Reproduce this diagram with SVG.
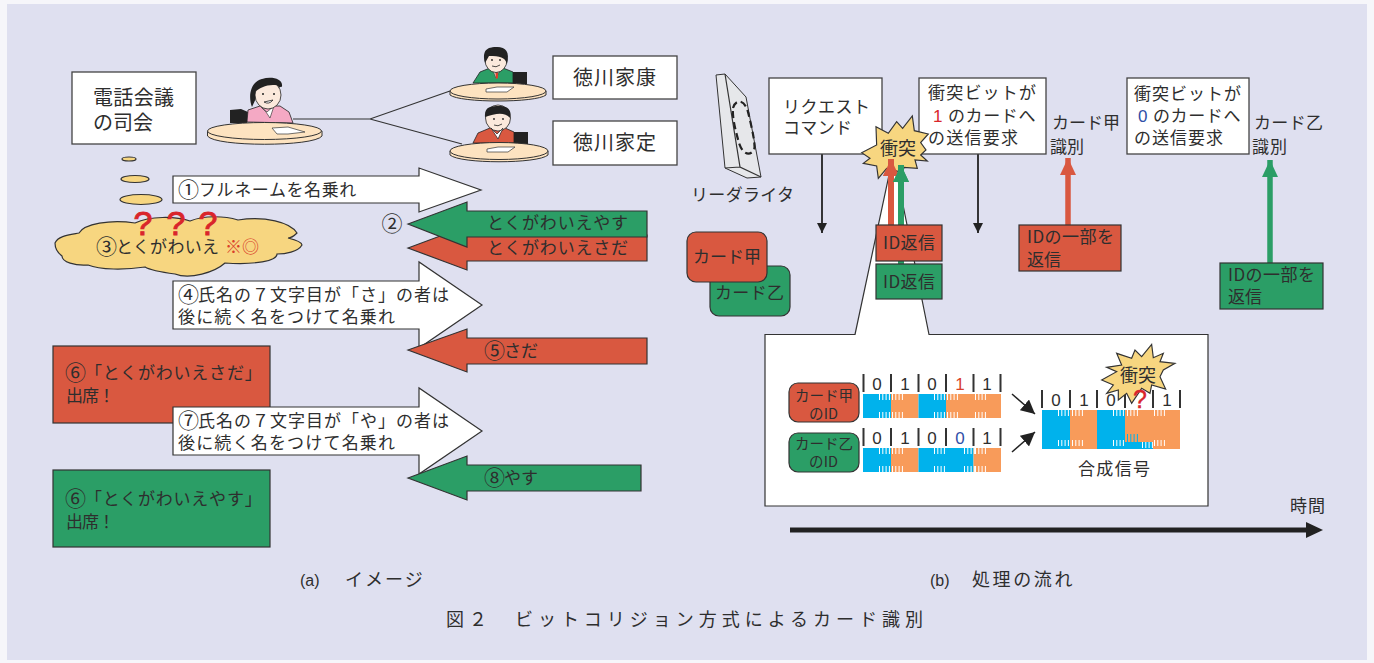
<svg xmlns="http://www.w3.org/2000/svg" width="1374" height="663" viewBox="0 0 1374 663">
<style>
text{font-family:"Noto Sans CJK JP","Noto Sans",sans-serif;fill:#2e2e2e;font-size:17px}
.n{font-family:"Liberation Sans",sans-serif;font-size:17px}
.c{font-size:21px}
.f20{font-size:20px}
.f18{font-size:18px}
.f14{font-size:14.5px}
.box{fill:#fff;stroke:#444;stroke-width:1.3}
.red{fill:#d95840;stroke:#333;stroke-width:1.2}
.grn{fill:#2b9e66;stroke:#333;stroke-width:1.2}
.wht{fill:#fff;stroke:#333;stroke-width:1.2}
.yel{fill:#f7d680;stroke:#333;stroke-width:1.2}
.tbl{fill:#fde3c0;stroke:#333;stroke-width:1}
.blk{fill:#222}
.skin{fill:#fbe9dc;stroke:#222;stroke-width:.8}
.paper{fill:#fff;stroke:#333;stroke-width:.7}
.tick{stroke:#333;stroke-width:2}
.wt{stroke:#fff;stroke-width:1;fill:none}
.line{fill:none;stroke:#333;stroke-width:1.2}
.rq{font-family:"Liberation Sans",sans-serif;fill:#d9252b;stroke:#d9252b;stroke-width:.9}
</style>
<defs>
<marker id="hk" markerUnits="userSpaceOnUse" markerWidth="10" markerHeight="10" refX="10" refY="5" orient="auto"><path d="M0 0L10 5L0 10z" fill="#222"/></marker>
<marker id="hs" markerUnits="userSpaceOnUse" markerWidth="14" markerHeight="14" refX="14" refY="7" orient="auto"><path d="M0 0L14 7L0 14z" fill="#222"/></marker>
<marker id="hr" markerUnits="userSpaceOnUse" markerWidth="17" markerHeight="16" refX="17" refY="8" orient="auto"><path d="M0 0L17 8L0 16z" fill="#d95840"/></marker>
<marker id="hg" markerUnits="userSpaceOnUse" markerWidth="17" markerHeight="16" refX="17" refY="8" orient="auto"><path d="M0 0L17 8L0 16z" fill="#2b9e66"/></marker>
<path id="tt" class="wt" d="M.5 0v6M3.8 0v6M7.1 0v6M10.4 0v6"/>
</defs>

<rect width="1374" height="663" fill="#f6f6fa"/>
<rect x="7" y="4" width="1360" height="656" fill="#dfe0f0"/>

<g id="connectors">
<path class="line" d="M293 119H370L450 91M370 119L462 144"/>
<g id="thought">
<ellipse class="yel" cx="129" cy="159" rx="7" ry="2"/>
<ellipse class="yel" cx="135" cy="179" rx="14" ry="3.5"/>
<ellipse class="yel" cx="141" cy="199.500" rx="21" ry="5"/>
</g>
<line x1="822" y1="154" x2="822" y2="233" stroke="#222" stroke-width="1.800" marker-end="url(#hk)"/>
<line x1="978" y1="154" x2="978" y2="233" stroke="#222" stroke-width="1.800" marker-end="url(#hk)"/>
<line x1="1068" y1="225" x2="1068" y2="158" stroke="#d95840" stroke-width="5.500" marker-end="url(#hr)"/>
<line x1="1270" y1="263" x2="1270" y2="160" stroke="#2b9e66" stroke-width="5.500" marker-end="url(#hg)"/>
</g>

<g id="host">
<path class="blk" d="M230 110L241 109L248 112L247 123H230z"/>
<path d="M247 122L248 110L260 106L280 106L289 112L293 123z" fill="#f4a9c4" stroke="#222" stroke-width=".8"/>
<path d="M260 106L267 112L274 106L270 118L266 112z" fill="#fff" stroke="#222" stroke-width=".6"/>
<path d="M252 107C248 97 250 82 262 79C272 76 283 79 282 86L272 92L257 96z" fill="#222"/>
<ellipse class="skin" cx="268" cy="95" rx="13" ry="14"/>
<path d="M255 92C260 87 272 82 282 87C281 80 272 77 264 79C257 80 253 86 255 92z" fill="#222"/>
<circle cx="263" cy="94" r="1" fill="#222"/><circle cx="274" cy="94" r="1" fill="#222"/>
<path d="M264 102Q269 105 273 100z" fill="#fff" stroke="#222" stroke-width=".8"/>
<path class="tbl" d="M207.500 131V136C215 147 314 147 322 136V131z"/>
<ellipse class="tbl" cx="264.500" cy="131" rx="57" ry="8.500"/>
<path class="paper" d="M272 128L288 127L305 132L288 134L277 134z"/>
</g>
<g id="ieyasu">
<rect x="513" y="72" width="14" height="12" class="blk"/>
<path d="M473 83L480 72L490 68H503L513 72V83z" fill="#2b9e66" stroke="#222" stroke-width=".8"/>
<path d="M492 68L501 68L496 78z" fill="#fff" stroke="#222" stroke-width=".5"/>
<path d="M495 70H498L498 78L496 79z" fill="#d9402b"/>
<ellipse class="skin" cx="496" cy="60" rx="11" ry="12.500"/>
<path d="M485 63C481 48 490 47 497 47C506 47 510 52 507 64C505 57 500 56 489 56z" fill="#222"/>
<circle cx="492" cy="60" r=".9" fill="#222"/><circle cx="500" cy="60" r=".9" fill="#222"/>
<path d="M492 66Q496 68 500 65" fill="none" stroke="#222" stroke-width=".8"/>
<path class="tbl" d="M450 91V95C460 103 536 103 546 95V91z"/>
<ellipse class="tbl" cx="498" cy="91" rx="48" ry="8"/>
<path class="paper" d="M486 89L497 87L514 87L507 92L486 92z"/>
</g>
<g id="iesada">
<rect x="514" y="132" width="14" height="12" class="blk"/>
<path d="M473 143L478 133L490 128H505L514 132V143z" fill="#d95840" stroke="#222" stroke-width=".8"/>
<ellipse class="skin" cx="498" cy="118" rx="12.500" ry="13"/>
<path d="M485 117C484 106 492 106 499 106C508 106 512 110 510 118C505 112 496 113 485 117z" fill="#222"/>
<circle cx="494" cy="119" r=".9" fill="#222"/><circle cx="503" cy="119" r=".9" fill="#222"/>
<path d="M494 125Q498 127 502 124" fill="none" stroke="#222" stroke-width=".8"/>
<path d="M491 128L497 134L503 128L498 139z" fill="#fff" stroke="#222" stroke-width=".7"/>
<path class="tbl" d="M450 151V155C460 164 538 164 548 155V151z"/>
<ellipse class="tbl" cx="499" cy="151" rx="49" ry="8.500"/>
<path class="paper" d="M487 149L498 147L515 147L508 152L487 152z"/>
</g>

<g id="label-host"><rect class="box" x="72" y="72" width="124" height="72"/>
<text class="f20" x="93" y="105" textLength="81">電話会議</text>
<text class="f20" x="93" y="130" textLength="60">の司会</text></g>
<g id="label-ieyasu"><rect class="box" x="553" y="56" width="124" height="43"/>
<text class="f20" x="573" y="85" textLength="83">徳川家康</text></g>
<g id="label-iesada"><rect class="box" x="553" y="121" width="124" height="44"/>
<text class="f20" x="573" y="150" textLength="83">徳川家定</text></g>

<g id="cloud">
<path class="yel" d="M55 243C58 236 68 235 79 233C84 224 110 219 135 223C150 216 175 216 190 221C205 215 225 216 238 220C265 216 290 222 297 233C293 237 290 238 288 238C296 240 302 242 302 245C298 252 285 254 277 254C277 261 255 265 225 263C215 272 190 280 175 274C160 272 150 270 145 267C125 270 100 270 88 265C75 266 62 262 62 256C58 253 55 248 55 243z"/>
<text class="rq" x="143" y="235" text-anchor="middle" style="font-size:34px">?</text>
<text class="rq" x="176" y="235" text-anchor="middle" style="font-size:34px">?</text>
<text class="rq" x="208" y="235" text-anchor="middle" style="font-size:34px">?</text>
<text x="96" y="254"><tspan class="c">③</tspan><tspan x="116" y="253" letter-spacing=".3">とくがわいえ</tspan><tspan x="225" style="fill:#d9402b">※◎</tspan></text>
</g>

<g id="box-sada"><rect class="red" x="53" y="346" width="217" height="77"/>
<text x="65" y="380"><tspan class="c">⑥</tspan><tspan x="85" y="379" letter-spacing=".8">「とくがわいえさだ」</tspan></text>
<text x="66" y="402" textLength="49">出席！</text></g>
<g id="box-yasu"><rect class="grn" x="53" y="470" width="217" height="77"/>
<text x="65" y="506"><tspan class="c">⑥</tspan><tspan x="85" y="505" letter-spacing=".8">「とくがわいえやす」</tspan></text>
<text x="66" y="528" textLength="49">出席！</text></g>

<g id="arrow-1"><path class="wht" d="M173 176H419V168L481 190L419 212V203H173z"/>
<text x="178" y="197"><tspan class="c">①</tspan><tspan x="199" y="196" letter-spacing=".6">フルネームを名乗れ</tspan></text></g>
<text id="label-2" class="c" x="392" y="231" text-anchor="middle">②</text>
<g id="arrow-2b"><path class="red" d="M408 248L467 226V235H647V261H467V270z"/>
<text x="487" y="254" textLength="141">とくがわいえさだ</text></g>
<g id="arrow-2a"><path class="grn" d="M408 224L467 202V211H647V237H467V247z"/>
<text x="487" y="229" textLength="141">とくがわいえやす</text></g>
<g id="arrow-4"><path class="wht" d="M173 281H419V262L482 305L419 348V329H173z"/>
<text x="178" y="302"><tspan class="c">④</tspan><tspan x="198" y="301" letter-spacing="1">氏名の７文字目が「さ」の者は</tspan></text>
<text x="178" y="323" textLength="217">後に続く名をつけて名乗れ</text></g>
<g id="arrow-5"><path class="red" d="M408 350L467 329V338H647V364H467V372z"/>
<text x="484" y="358"><tspan class="c">⑤</tspan><tspan x="504" y="357">さだ</tspan></text></g>
<g id="arrow-7"><path class="wht" d="M173 407H419V388L482 431L419 474V455H173z"/>
<text x="178" y="428"><tspan class="c">⑦</tspan><tspan x="198" y="427" letter-spacing="1">氏名の７文字目が「や」の者は</tspan></text>
<text x="178" y="449" textLength="217">後に続く名をつけて名乗れ</text></g>
<g id="arrow-8"><path class="grn" d="M408 478L467 456V465H641V491H467V500z"/>
<text x="484" y="485"><tspan class="c">⑧</tspan><tspan x="504" y="484">やす</tspan></text></g>

<g id="reader">
<path d="M716 75L725 74L746 97L761 177L747 178L725 168z" fill="#e6e7ea" stroke="#333" stroke-width="1"/>
<path class="line" d="M725 74L740 167L761 177M725 168L740 167"/>
<path d="M733 108C736 98 745 100 748 112C752 128 756 146 754 150C750 156 743 155 739 143C736 132 732 118 733 108z" fill="none" stroke="#222" stroke-width="2.200" stroke-dasharray="7 4"/>
<text x="691" y="201" textLength="103">リーダライタ</text>
</g>
<g id="card-otsu"><rect class="grn" x="710" y="266" width="80" height="50" rx="9"/>
<text x="715" y="299" textLength="69">カード乙</text></g>
<g id="card-ko"><rect class="red" x="687" y="232" width="80" height="50" rx="9"/>
<text x="693" y="263" textLength="68">カード甲</text></g>

<g id="request"><rect class="box" x="769" y="78" width="113" height="76"/>
<text x="783" y="113" textLength="87">リクエスト</text>
<text x="783" y="134" textLength="69">コマンド</text></g>
<g id="send-1"><rect class="box" x="919" y="78" width="127" height="76"/>
<text x="928" y="99" textLength="108">衝突ビットが</text>
<text x="933" y="122"><tspan style="font-family:'Liberation Sans',sans-serif;fill:#d9252b">1</tspan><tspan x="948" letter-spacing=".6">のカードへ</tspan></text>
<text x="928" y="144" textLength="90">の送信要求</text></g>
<g id="send-0"><rect class="box" x="1127" y="78" width="122" height="76"/>
<text x="1134" y="100" textLength="107">衝突ビットが</text>
<text x="1138" y="122"><tspan style="font-family:'Liberation Sans',sans-serif;fill:#2f4fa8">0</tspan><tspan x="1153" letter-spacing=".6">のカードへ</tspan></text>
<text x="1134" y="144" textLength="89">の送信要求</text></g>

<g id="detail">
<path d="M855 334.500L889 175H897L929 334.500H1208V506H765V334.500z" fill="#fff" stroke="#333" stroke-width="1.200"/>
<g id="card-ko-id"><rect class="red" x="789" y="383" width="70" height="39" rx="9"/>
<text class="f14" x="795" y="401" textLength="58">カード甲</text>
<text class="f14" x="809" y="419" textLength="29">のID</text></g>
<g id="card-otsu-id"><rect class="grn" x="789" y="433" width="70" height="39" rx="9"/>
<text class="f14" x="795" y="449" textLength="58">カード乙</text>
<text class="f14" x="809" y="467" textLength="29">のID</text></g>

<path class="tick" d="M863.500 374V392M891 374V392M918.500 374V392M946 374V392M973.500 374V392M1000.500 374V392M863.500 428V446M891 428V446M918.500 428V446M946 428V446M973.500 428V446M1000.500 428V446"/>
<g text-anchor="middle">
<text class="n" x="877" y="390">0</text><text class="n" x="905" y="390">1</text><text class="n" x="932" y="390">0</text><text class="n" x="960" y="390" style="fill:#d9402b">1</text><text class="n" x="987" y="390">1</text>
<text class="n" x="877" y="444">0</text><text class="n" x="905" y="444">1</text><text class="n" x="932" y="444">0</text><text class="n" x="960" y="444" style="fill:#2f4fa8">0</text><text class="n" x="987" y="444">1</text>
</g>
<g id="signal-ko">
<rect x="863" y="394" width="28" height="24" fill="#00b2ec"/><rect x="891" y="394" width="27.500" height="24" fill="#f89b5a"/><rect x="918.500" y="394" width="27.500" height="24" fill="#00b2ec"/><rect x="946" y="394" width="55" height="24" fill="#f89b5a"/>
<use href="#tt" x="879" y="394"/><use href="#tt" x="892" y="394"/><use href="#tt" x="934" y="394"/><use href="#tt" x="947" y="394"/><use href="#tt" x="975" y="394"/>
<use href="#tt" x="879" y="412"/><use href="#tt" x="892" y="412"/><use href="#tt" x="934" y="412"/><use href="#tt" x="947" y="412"/><use href="#tt" x="975" y="412"/>
</g>
<g id="signal-otsu">
<rect x="863" y="448" width="28" height="24" fill="#00b2ec"/><rect x="891" y="448" width="27.500" height="24" fill="#f89b5a"/><rect x="918.500" y="448" width="55" height="24" fill="#00b2ec"/><rect x="973.500" y="448" width="27.500" height="24" fill="#f89b5a"/>
<use href="#tt" x="879" y="448"/><use href="#tt" x="892" y="448"/><use href="#tt" x="934" y="448"/><use href="#tt" x="964" y="448"/><use href="#tt" x="975" y="448"/>
<use href="#tt" x="879" y="466"/><use href="#tt" x="892" y="466"/><use href="#tt" x="934" y="466"/><use href="#tt" x="964" y="466"/><use href="#tt" x="975" y="466"/>
</g>
<line x1="1012" y1="394" x2="1035" y2="414" stroke="#222" stroke-width="1.500" marker-end="url(#hs)"/>
<line x1="1012" y1="452" x2="1035" y2="432" stroke="#222" stroke-width="1.500" marker-end="url(#hs)"/>
<path class="tick" d="M1042 390V408M1070 390V408M1097 390V408M1125 390V408M1153 390V408M1180 390V408"/>
<g text-anchor="middle">
<text class="n" x="1056" y="406">0</text><text class="n" x="1084" y="406">1</text><text class="n" x="1111" y="406">0</text><text class="n" x="1167" y="406">1</text>
</g>
<g id="signal-mix">
<rect x="1042" y="410" width="28" height="39" fill="#00b2ec"/><rect x="1070" y="410" width="27" height="39" fill="#f89b5a"/><rect x="1097" y="410" width="56" height="39" fill="#00b2ec"/><rect x="1125" y="410" width="55" height="32" fill="#f89b5a"/><rect x="1153" y="410" width="27" height="39" fill="#f89b5a"/>
<use href="#tt" x="1058" y="410"/><use href="#tt" x="1072" y="410"/><use href="#tt" x="1113" y="410"/><use href="#tt" x="1127" y="410"/><use href="#tt" x="1154" y="410"/>
<use href="#tt" x="1058" y="440"/><use href="#tt" x="1072" y="440"/><use href="#tt" x="1113" y="440"/><use href="#tt" x="1142" y="442"/><use href="#tt" x="1154" y="440"/>
<path transform="translate(1127 434)" stroke="#00b2ec" stroke-width="1" d="M.5 0v8M3.800 0v8M7.100 0v8M10.400 0v8"/>
</g>
<text x="1078" y="475" textLength="72">合成信号</text>
<g id="burst-small">
<polygon class="yel" transform="translate(1000 335) scale(.3333)" style="stroke-width:3.500" points="305,135 350,110 320,97 365,90 350,55 395,70 405,45 425,65 455,28 460,68 490,55 480,80 525,85 490,105 480,125 497,162 455,150 450,175 425,160 395,205 380,175 355,195 355,165 320,175 340,150"/>
<text class="f18" x="1120" y="382" textLength="36">衝突</text>
<text class="rq" x="1140" y="408" text-anchor="middle" style="font-size:25px;stroke-width:.4">?</text>
</g>
</g>

<g id="reply-arrows">
<line x1="891" y1="226" x2="891" y2="159" stroke="#d95840" stroke-width="6" marker-end="url(#hr)"/>
<line x1="901" y1="266" x2="901" y2="165" stroke="#2b9e66" stroke-width="6" marker-end="url(#hg)"/>
</g>
<g id="burst-large">
<polygon class="yel" transform="translate(680 60) scale(.3333)" style="stroke-width:3.500" points="545,278 590,255 588,200 625,220 650,185 668,205 697,168 703,212 745,222 722,248 738,270 722,285 742,303 705,300 712,325 672,322 668,338 620,325 595,355 590,318 550,310 570,295"/>
<text class="f18" x="880" y="155" textLength="36">衝突</text>
</g>
<g id="reply-arrow-tips">
<line x1="891" y1="178" x2="891" y2="159" stroke="#d95840" stroke-width="6" marker-end="url(#hr)"/>
<line x1="901" y1="182" x2="901" y2="165" stroke="#2b9e66" stroke-width="6" marker-end="url(#hg)"/>
</g>

<g id="reply-ko"><rect class="red" x="876" y="225" width="66" height="36"/>
<text x="883" y="249" textLength="52">ID返信</text></g>
<g id="reply-otsu"><rect class="grn" x="876" y="264" width="66" height="35"/>
<text x="883" y="288" textLength="52">ID返信</text></g>

<g id="ident-ko">
<text x="1052" y="129" textLength="68">カード甲</text>
<text x="1050" y="153" textLength="34">識別</text>
<rect class="red" x="1019" y="225" width="102" height="46"/>
<text x="1027" y="243" textLength="87">IDの一部を</text>
<text x="1027" y="266" textLength="34">返信</text>
</g>
<g id="ident-otsu">
<text x="1254" y="129" textLength="69">カード乙</text>
<text x="1252" y="153" textLength="35">識別</text>
<rect class="grn" x="1220" y="263" width="103" height="46"/>
<text x="1228" y="281" textLength="87">IDの一部を</text>
<text x="1228" y="303" textLength="34">返信</text>
</g>

<g id="timeline">
<line x1="790" y1="530" x2="1310" y2="530" stroke="#222" stroke-width="5"/>
<path d="M1306 522L1323 530L1306 538z" fill="#222"/>
<text x="1290" y="512" textLength="35">時間</text>
</g>

<text class="f18" x="300" y="586"><tspan style="font-family:'Liberation Sans',sans-serif;font-size:16px">(a)</tspan><tspan x="345" letter-spacing="2">イメージ</tspan></text>
<text class="f18" x="930" y="586"><tspan style="font-family:'Liberation Sans',sans-serif;font-size:16px">(b)</tspan><tspan x="972" letter-spacing="2.600">処理の流れ</tspan></text>
<text class="f18" x="446" y="626" textLength="477">図２　ビットコリジョン方式によるカード識別</text>
</svg>
